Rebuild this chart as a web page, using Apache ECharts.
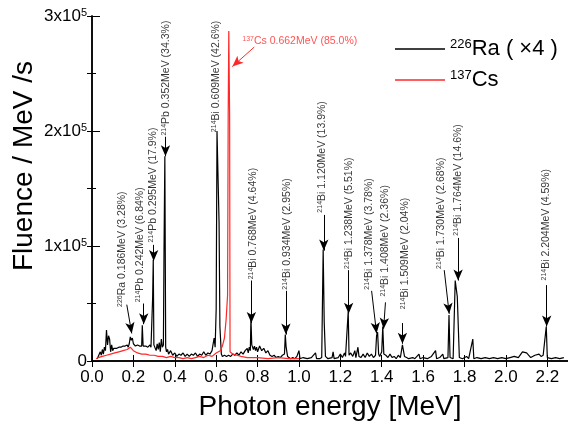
<!DOCTYPE html>
<html>
<head>
<meta charset="utf-8">
<script src="https://cdn.jsdelivr.net/npm/echarts@6/dist/echarts.min.js"></script>
<style>
html, body { margin: 0; padding: 0; background: #fff; }
#chart { width: 568px; height: 426px; }
</style>
</head>
<body>
<div id="chart"></div>
<script>
// 226Ra (x4) spectrum: energy [MeV], fluence [x10^3 /MeV/s]
const raEnergy = [
  0.025, 0.03, 0.035, 0.04, 0.045, 0.05, 0.055, 0.06, 0.065, 0.07, 0.075, 0.08, 0.085, 0.09, 0.095,
  0.1, 0.105, 0.11, 0.12, 0.13, 0.14, 0.15, 0.16, 0.17, 0.175, 0.18, 0.185, 0.19, 0.195, 0.2,
  0.205, 0.21, 0.22, 0.23, 0.235, 0.24, 0.243, 0.247, 0.26, 0.27, 0.28, 0.285, 0.29, 0.293, 0.296,
  0.299, 0.31, 0.315, 0.32, 0.325, 0.33, 0.335, 0.34, 0.345, 0.348, 0.352, 0.356, 0.36, 0.365, 0.37,
  0.38, 0.39, 0.4, 0.41, 0.42, 0.43, 0.44, 0.45, 0.46, 0.47, 0.48, 0.49, 0.5, 0.51, 0.52,
  0.53, 0.54, 0.55, 0.56, 0.57, 0.58, 0.59, 0.595, 0.6, 0.604, 0.609, 0.614, 0.618, 0.625, 0.63,
  0.64, 0.65, 0.66, 0.67, 0.68, 0.69, 0.7, 0.71, 0.72, 0.73, 0.74, 0.75, 0.755, 0.76, 0.765,
  0.768, 0.772, 0.78, 0.785, 0.79, 0.795, 0.8, 0.81, 0.82, 0.83, 0.84, 0.85, 0.86, 0.87, 0.88,
  0.89, 0.9, 0.91, 0.92, 0.93, 0.934, 0.938, 0.945, 0.95, 0.96, 0.97, 0.98, 0.99, 1.0, 1.005,
  1.02, 1.04, 1.06, 1.08, 1.085, 1.1, 1.11, 1.117, 1.122, 1.128, 1.14, 1.16, 1.165, 1.17, 1.19,
  1.2, 1.21, 1.22, 1.225, 1.23, 1.238, 1.242, 1.25, 1.26, 1.27, 1.275, 1.285, 1.29, 1.3, 1.31,
  1.32, 1.33, 1.34, 1.35, 1.36, 1.37, 1.375, 1.38, 1.385, 1.39, 1.4, 1.405, 1.41, 1.42, 1.43,
  1.44, 1.45, 1.46, 1.47, 1.48, 1.49, 1.5, 1.505, 1.51, 1.52, 1.53, 1.55, 1.56, 1.58, 1.585,
  1.6, 1.62, 1.64, 1.66, 1.665, 1.68, 1.695, 1.7, 1.72, 1.725, 1.73, 1.745, 1.755, 1.765, 1.775,
  1.79, 1.81, 1.82, 1.84, 1.845, 1.86, 1.88, 1.9, 1.92, 1.94, 1.96, 1.98, 2.0, 2.02, 2.04,
  2.06, 2.08, 2.1, 2.12, 2.14, 2.16, 2.17, 2.18, 2.195, 2.2, 2.22, 2.24, 2.26, 2.28
];
const raFluence = [
  2, 4, 3, 8, 5, 10, 6, 12, 9, 27, 14, 22, 19, 8, 14,
  9, 11, 10, 11, 12, 12, 13, 13, 14, 12, 15, 21, 18, 20, 15,
  16, 13, 14, 13, 14, 13, 31, 13, 13, 12, 14, 12, 13, 55, 88,
  14, 9, 15, 10, 16, 8, 19, 12, 14, 97, 178, 12, 8, 10, 6,
  9, 5, 7, 4, 6, 5, 7, 4, 6, 4, 6, 5, 7, 4, 6,
  5, 8, 5, 7, 6, 9, 20, 12, 45, 200, 200, 120, 30, 6, 4,
  5, 4, 5, 4, 6, 5, 7, 5, 8, 6, 9, 11, 7, 12, 9,
  37, 14, 10, 13, 9, 12, 8, 13, 9, 11, 7, 9, 5, 4, 5,
  3, 4, 3, 5, 6, 23, 12, 4, 3, 2, 3, 2, 4, 9, 2,
  3, 2, 3, 7, 2, 2, 3, 97, 34, 4, 2, 3, 8, 2, 3,
  6, 3, 7, 4, 5, 43, 5, 7, 4, 9, 3, 12, 4, 3, 6,
  3, 7, 4, 6, 3, 5, 22, 25, 6, 4, 8, 30, 6, 5, 3,
  6, 3, 4, 2, 5, 3, 14, 14, 4, 3, 2, 3, 2, 6, 2,
  3, 2, 4, 9, 2, 3, 6, 2, 3, 40, 3, 2, 70, 56, 3,
  2, 4, 2, 19, 2, 3, 2, 3, 2, 3, 2, 3, 2, 3, 4,
  3, 8, 7, 3, 5, 6, 4, 5, 30, 3, 2, 3, 2, 3
];

// 137Cs spectrum
const csEnergy = [
  0.02, 0.03, 0.05, 0.07, 0.09, 0.11, 0.13, 0.15, 0.17, 0.185, 0.19, 0.2, 0.22, 0.24, 0.26,
  0.28, 0.3, 0.32, 0.34, 0.36, 0.38, 0.4, 0.42, 0.44, 0.46, 0.48, 0.5, 0.52, 0.54, 0.56,
  0.58, 0.6, 0.62, 0.63, 0.64, 0.648, 0.655, 0.658, 0.661, 0.663, 0.665, 0.667, 0.67, 0.68, 0.7,
  0.72, 0.75, 0.8, 0.85, 0.9, 0.95, 1.0
];
const csFluence = [
  2, 3, 4, 5, 6, 7, 8, 9, 10, 12, 11, 9, 7, 6, 6,
  5, 5, 4, 4, 3, 4, 3, 3, 2, 3, 2, 3, 4, 3, 5,
  4, 7, 9, 13, 20, 36, 57, 212, 287, 287, 212, 8, 8, 6, 5,
  4, 3, 3, 2, 3, 2, 2
];

const yTickLabels = ['0', '1x10', '2x10', '3x10'];

// peak labels: nuclide mass number, text, label anchor, arrow tail and head
const peakMass = ['226', '214', '214', '214', '214', '214', '214', '214', '214', '214', '214', '214', '214', '214', '214'];
const peakText = [
  'Ra 0.186MeV (3.28%)', 'Pb 0.242MeV (6.84%)', 'Pb 0.295MeV (17.9%)', 'Pb 0.352MeV (34.3%)',
  'Bi 0.609MeV (42.6%)', 'Bi 0.768MeV (4.64%)', 'Bi 0.934MeV (2.95%)', 'Bi 1.120MeV (13.9%)',
  'Bi 1.238MeV (5.51%)', 'Bi 1.378MeV (3.78%)', 'Bi 1.408MeV (2.36%)', 'Bi 1.509MeV (2.04%)',
  'Bi 1.730MeV (2.68%)', 'Bi 1.764MeV (14.6%)', 'Bi 2.204MeV (4.59%)'
];
const labelEnergy = [0.144, 0.231, 0.293, 0.36, 0.6, 0.779, 0.942, 1.11, 1.24, 1.337, 1.418, 1.514, 1.688, 1.769, 2.192];
const labelFluence = [47, 51, 103, 196, 199, 71, 62, 129, 80, 62, 56, 45, 80, 109, 70];
const arrowTail = [[0.168, 49], [0.25, 50], [0.298, 101], [0.355, 195], null, [0.77, 70], [0.937, 61], [1.12, 127],
  [1.24, 79], [1.351, 61], [1.418, 51], [1.5, 33], [1.702, 79], [1.769, 107], [2.197, 66]];
const arrowHead = [[0.192, 24], [0.25, 32], [0.298, 87], [0.355, 178], null, [0.77, 33], [0.937, 23], [1.12, 96],
  [1.24, 41], [1.375, 24], [1.409, 28], [1.5, 15], [1.726, 41], [1.769, 70], [2.197, 30]];

const csLabel = { mass: '137', text: 'Cs 0.662MeV (85.0%)', at: [0.726, 278], tail: [0.784, 273], head: [0.678, 256] };

const RED = '#ff2828';
const labelFont = '"Liberation Sans", Arial, sans-serif';
const mainFont = '"Liberation Sans", Arial, sans-serif';

function pairs(xs, ys) {
  return xs.map((x, i) => [x, ys[i]]);
}

const labelData = peakText.map((t, i) => ({
  value: [labelEnergy[i], labelFluence[i]],
  label: { formatter: '{s|' + peakMass[i] + '}{t|' + t + '}' }
}));
labelData.push({
  value: csLabel.at,
  label: {
    rotate: 0,
    formatter: '{s|' + csLabel.mass + '}{t|' + csLabel.text + '}',
    rich: {
      s: { fontSize: 7, verticalAlign: 'top', color: RED, fontFamily: labelFont },
      t: { fontSize: 10.5, color: RED, fontFamily: labelFont }
    }
  }
});

const arrowData = [];
arrowTail.forEach((a, i) => {
  if (!a) return;
  arrowData.push([{ coord: a, symbol: 'none' }, { coord: arrowHead[i], symbol: 'arrow' }]);
});
arrowData.push([
  { coord: csLabel.tail, symbol: 'none', lineStyle: { color: RED } },
  { coord: csLabel.head, symbol: 'arrow', itemStyle: { color: RED } }
]);

const chart = echarts.init(document.getElementById('chart'));

const axisLineStyle = { color: '#000', width: 1.5 };

chart.setOption({
  animation: false,
  backgroundColor: '#fff',
  grid: { left: 92, right: -2, top: 16, bottom: 61 },
  legend: {
    left: 390,
    top: 33,
    orient: 'vertical',
    icon: 'rect',
    itemWidth: 50,
    itemHeight: 1.5,
    itemGap: 9,
    data: ['ra', 'cs'],
    formatter: n => n === 'ra' ? '{s|226}{m|Ra ( ×4 )}' : '{s|137}{m|Cs}',
    textStyle: {
      color: '#000',
      rich: {
        s: { fontSize: 13, verticalAlign: 'top', fontFamily: mainFont },
        m: { fontSize: 22, fontFamily: mainFont }
      }
    }
  },
  graphic: [{
    type: 'text',
    x: 24,
    y: 166,
    rotation: Math.PI / 2,
    style: {
      text: 'Fluence / MeV /s',
      font: '28px ' + mainFont,
      fill: '#000',
      align: 'center',
      verticalAlign: 'middle'
    }
  }],
  xAxis: [{
    type: 'value',
    min: 0,
    max: 2.3,
    interval: 0.2,
    name: 'Photon energy [MeV]',
    nameLocation: 'middle',
    nameGap: 32,
    nameTextStyle: { fontSize: 28, color: '#000', fontFamily: mainFont },
    axisLine: { lineStyle: axisLineStyle },
    axisTick: { inside: true, length: 6, lineStyle: { color: '#000' } },
    axisLabel: {
      color: '#000', fontSize: 17, fontFamily: mainFont, margin: 8,
      showMaxLabel: false,
      formatter: v => v.toFixed(1)
    },
    splitLine: { show: false }
  }, {
    type: 'value',
    position: 'top',
    min: 0,
    max: 2.3,
    interval: 0.2,
    axisLine: { lineStyle: axisLineStyle },
    axisTick: { inside: true, length: 6, lineStyle: { color: '#000' } },
    axisLabel: { show: false },
    splitLine: { show: false }
  }],
  yAxis: [{
    type: 'value',
    min: 0,
    max: 300,
    interval: 100,
    axisLine: { show: true, lineStyle: axisLineStyle },
    axisTick: { inside: true, length: 8, lineStyle: { color: '#000' } },
    minorTick: { show: true, splitNumber: 2, length: 4, lineStyle: { color: '#000' } },
    axisLabel: {
      margin: 5,
      formatter: v => {
        const t = yTickLabels[Math.round(v / 100)];
        return v === 0 ? '{b|' + t + '}' : '{b|' + t + '}{s|5}';
      },
      rich: {
        b: { fontSize: 17, color: '#000', fontFamily: mainFont },
        s: { fontSize: 11, color: '#000', verticalAlign: 'top', fontFamily: mainFont }
      }
    },
    splitLine: { show: false }
  }, {
    type: 'value',
    position: 'right',
    min: 0,
    max: 300,
    interval: 50,
    axisLine: { show: true, lineStyle: axisLineStyle },
    axisTick: { inside: true, length: 5, lineStyle: { color: '#000' } },
    axisLabel: { show: false },
    splitLine: { show: false }
  }],
  series: [{
    name: 'ra',
    type: 'line',
    data: pairs(raEnergy, raFluence),
    symbol: 'none',
    color: '#000',
    lineStyle: { color: '#000', width: 1.2 },
    z: 3
  }, {
    name: 'cs',
    type: 'line',
    data: pairs(csEnergy, csFluence),
    symbol: 'none',
    color: RED,
    lineStyle: { color: RED, width: 1.2 },
    z: 4
  }, {
    name: 'peaks',
    type: 'scatter',
    data: labelData,
    symbolSize: 0,
    silent: true,
    z: 5,
    label: {
      show: true,
      position: 'inside',
      rotate: 90,
      align: 'left',
      verticalAlign: 'middle',
      rich: {
        s: { fontSize: 7, verticalAlign: 'top', color: '#000', fontFamily: labelFont },
        t: { fontSize: 10.5, color: '#000', fontFamily: labelFont }
      }
    },
    markLine: {
      silent: true,
      animation: false,
      symbolSize: [7, 11],
      label: { show: false },
      lineStyle: { color: '#000', width: 1, type: 'solid' },
      itemStyle: { color: '#000' },
      data: arrowData
    }
  }]
});
</script>
</body>
</html>
